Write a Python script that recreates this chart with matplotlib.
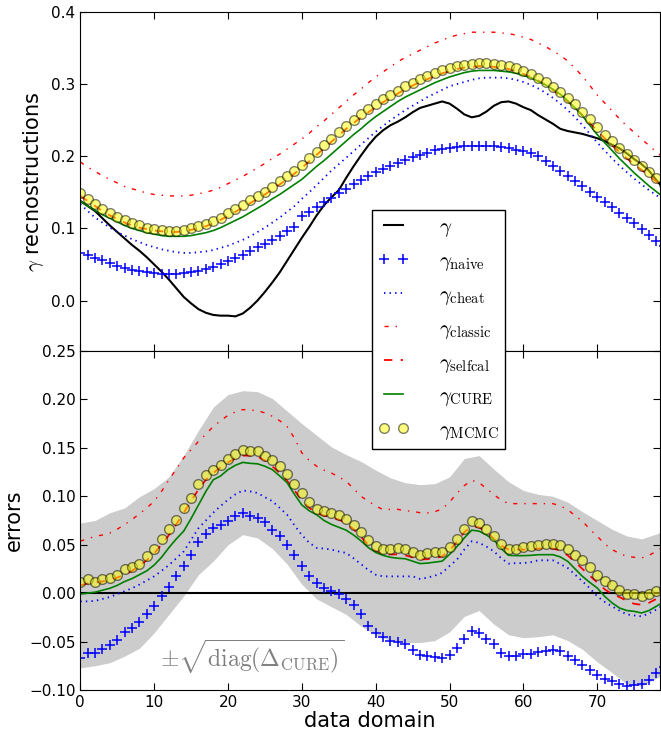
import numpy as np
import matplotlib
matplotlib.use('Agg')
import matplotlib.pyplot as plt

plt.rcParams['mathtext.fontset'] = 'cm'
plt.rcParams['lines.scale_dashes'] = False
plt.rcParams['lines.dashed_pattern'] = [6, 6]
plt.rcParams['lines.dashdot_pattern'] = [3, 5, 1, 5]
plt.rcParams['lines.dotted_pattern'] = [1, 3]

x = np.arange(80)

# top panel: reconstructions
gamma = [0.138, 0.131, 0.124, 0.114, 0.104, 0.095, 0.086, 0.077, 0.069, 0.060,
         0.050, 0.040, 0.029, 0.017, 0.005, -0.004, -0.012, -0.017, -0.020, -0.021,
         -0.021, -0.022, -0.018, -0.010, 0.000, 0.012, 0.025, 0.039, 0.055, 0.071,
         0.087, 0.102, 0.118, 0.132, 0.143, 0.153, 0.170, 0.186, 0.201, 0.215,
         0.227, 0.236, 0.243, 0.248, 0.254, 0.261, 0.267, 0.270, 0.273, 0.276,
         0.273, 0.266, 0.258, 0.254, 0.256, 0.262, 0.270, 0.275, 0.276, 0.273,
         0.268, 0.264, 0.257, 0.251, 0.245, 0.238, 0.235, 0.233, 0.231, 0.228,
         0.225, 0.221, 0.216, 0.211, 0.204, 0.196, 0.189, 0.180, 0.167, 0.155]
g_naive = [0.066, 0.0635, 0.059, 0.0556, 0.052, 0.048, 0.0454, 0.0426, 0.0403, 0.039,
           0.038, 0.037, 0.037, 0.037, 0.038, 0.039, 0.0403, 0.0436, 0.047, 0.0505,
           0.055, 0.059, 0.0635, 0.068, 0.074, 0.0788, 0.084, 0.090, 0.096, 0.102,
           0.117, 0.123, 0.130, 0.136, 0.142, 0.149, 0.155, 0.161, 0.167, 0.173,
           0.178, 0.183, 0.187, 0.191, 0.195, 0.199, 0.202, 0.205, 0.208, 0.210,
           0.212, 0.213, 0.214, 0.214, 0.214, 0.214, 0.214, 0.213, 0.211, 0.209,
           0.207, 0.204, 0.200, 0.194, 0.187, 0.180, 0.173, 0.166, 0.159, 0.151,
           0.143, 0.136, 0.129, 0.122, 0.115, 0.108, 0.099, 0.091, 0.083, 0.076]
g_cheat = [0.134, 0.124, 0.115, 0.108, 0.101, 0.095, 0.090, 0.085, 0.081, 0.077,
           0.074, 0.071, 0.069, 0.067, 0.066, 0.066, 0.067, 0.068, 0.070, 0.073,
           0.076, 0.080, 0.084, 0.089, 0.095, 0.101, 0.108, 0.115, 0.123, 0.131,
           0.141, 0.150, 0.160, 0.170, 0.180, 0.189, 0.198, 0.207, 0.216, 0.225,
           0.234, 0.242, 0.250, 0.257, 0.264, 0.270, 0.276, 0.282, 0.287, 0.292,
           0.297, 0.300, 0.303, 0.306, 0.308, 0.309, 0.309, 0.309, 0.308, 0.306,
           0.303, 0.299, 0.294, 0.288, 0.281, 0.273, 0.264, 0.254, 0.243, 0.231,
           0.219, 0.208, 0.197, 0.187, 0.178, 0.169, 0.161, 0.153, 0.146, 0.139]
g_classic = [0.192, 0.185, 0.179, 0.173, 0.168, 0.163, 0.158, 0.155, 0.152, 0.149,
             0.147, 0.146, 0.145, 0.145, 0.145, 0.146, 0.148, 0.150, 0.153, 0.157,
             0.162, 0.167, 0.172, 0.178, 0.184, 0.190, 0.197, 0.203, 0.210, 0.217,
             0.224, 0.232, 0.241, 0.249, 0.258, 0.267, 0.276, 0.285, 0.293, 0.302,
             0.310, 0.317, 0.324, 0.331, 0.337, 0.342, 0.347, 0.352, 0.357, 0.361,
             0.365, 0.368, 0.370, 0.372, 0.372, 0.372, 0.372, 0.371, 0.370, 0.368,
             0.365, 0.362, 0.357, 0.352, 0.346, 0.340, 0.332, 0.322, 0.311, 0.298,
             0.285, 0.274, 0.263, 0.252, 0.242, 0.233, 0.224, 0.215, 0.206, 0.198]
g_selfcal = [0.145, 0.138, 0.131, 0.124, 0.118, 0.113, 0.108, 0.104, 0.101, 0.099,
             0.097, 0.096, 0.095, 0.095, 0.096, 0.098, 0.100, 0.103, 0.107, 0.112,
             0.117, 0.123, 0.129, 0.135, 0.141, 0.147, 0.154, 0.161, 0.168, 0.176,
             0.184, 0.193, 0.202, 0.211, 0.220, 0.229, 0.238, 0.246, 0.254, 0.261,
             0.268, 0.275, 0.281, 0.287, 0.293, 0.298, 0.303, 0.307, 0.311, 0.315,
             0.318, 0.321, 0.323, 0.324, 0.325, 0.325, 0.324, 0.323, 0.321, 0.318,
             0.314, 0.310, 0.305, 0.299, 0.292, 0.284, 0.276, 0.267, 0.257, 0.246,
             0.235, 0.225, 0.215, 0.206, 0.197, 0.189, 0.181, 0.173, 0.165, 0.157]
g_cure = [0.138, 0.131, 0.125, 0.119, 0.114, 0.109, 0.104, 0.100, 0.097, 0.094,
          0.092, 0.090, 0.089, 0.089, 0.089, 0.090, 0.092, 0.094, 0.097, 0.101,
          0.106, 0.111, 0.116, 0.122, 0.128, 0.134, 0.141, 0.147, 0.154, 0.161,
          0.168, 0.177, 0.186, 0.194, 0.203, 0.212, 0.221, 0.230, 0.238, 0.247,
          0.255, 0.262, 0.269, 0.276, 0.282, 0.287, 0.292, 0.297, 0.302, 0.306,
          0.310, 0.313, 0.316, 0.318, 0.319, 0.319, 0.319, 0.318, 0.317, 0.315,
          0.312, 0.309, 0.304, 0.299, 0.293, 0.286, 0.277, 0.267, 0.256, 0.243,
          0.230, 0.219, 0.208, 0.197, 0.187, 0.177, 0.168, 0.159, 0.151, 0.143]
g_mcmc = [0.149, 0.141, 0.134, 0.127, 0.121, 0.116, 0.111, 0.107, 0.104, 0.101,
          0.0995, 0.098, 0.097, 0.097, 0.098, 0.100, 0.103, 0.106, 0.110, 0.115,
          0.121, 0.127, 0.133, 0.139, 0.145, 0.151, 0.158, 0.165, 0.172, 0.180,
          0.188, 0.197, 0.206, 0.215, 0.224, 0.233, 0.242, 0.250, 0.258, 0.265,
          0.272, 0.279, 0.285, 0.291, 0.297, 0.302, 0.307, 0.311, 0.315, 0.319,
          0.322, 0.325, 0.327, 0.328, 0.329, 0.329, 0.328, 0.327, 0.325, 0.322,
          0.318, 0.314, 0.309, 0.303, 0.296, 0.289, 0.281, 0.272, 0.262, 0.251,
          0.240, 0.230, 0.221, 0.212, 0.203, 0.195, 0.187, 0.178, 0.170, 0.162]

# bottom panel: errors
e_naive = [-0.0669, -0.0617, -0.0617, -0.0573, -0.0539, -0.048, -0.040, -0.036, -0.030, -0.022,
           -0.0136, -0.0033, 0.006, 0.0174, 0.0277, 0.039, 0.0525, 0.061, 0.0673, 0.070,
           0.0749, 0.0793, 0.0828, 0.080, 0.078, 0.073, 0.0656, 0.0587, 0.050, 0.039,
           0.028, 0.0174, 0.0105, 0.0054, 0.0019, -0.0005, -0.006, -0.0126, -0.022, -0.0336,
           -0.041, -0.0456, -0.049, -0.0504, -0.053, -0.059, -0.0635, -0.065, -0.066, -0.0669,
           -0.0635, -0.0566, -0.0473, -0.0387, -0.041, -0.047, -0.053, -0.0617, -0.065, -0.0645,
           -0.0625, -0.0625, -0.061, -0.060, -0.059, -0.060, -0.0645, -0.0687, -0.0738, -0.079,
           -0.0841, -0.0886, -0.091, -0.0934, -0.0955, -0.0945, -0.094, -0.0893, -0.0824, -0.076]
e_cheat = [-0.0085, -0.0085, -0.008, -0.006, -0.004, -0.001, 0.002, 0.005, 0.0088, 0.013,
           0.0174, 0.023, 0.029, 0.036, 0.043, 0.055, 0.067, 0.075, 0.083, 0.090,
           0.0965, 0.102, 0.106, 0.105, 0.1034, 0.099, 0.095, 0.088, 0.081, 0.070,
           0.060, 0.052, 0.0467, 0.046, 0.045, 0.043, 0.0415, 0.036, 0.030, 0.024,
           0.019, 0.0173, 0.0173, 0.0173, 0.0173, 0.0173, 0.0147, 0.016, 0.018, 0.021,
           0.028, 0.0346, 0.045, 0.0535, 0.052, 0.048, 0.0432, 0.036, 0.0305, 0.031,
           0.031, 0.032, 0.0339, 0.0339, 0.0339, 0.030, 0.026, 0.019, 0.0122, 0.005,
           -0.0033, -0.009, -0.0136, -0.018, -0.022, -0.023, -0.024, -0.021, -0.017, -0.012]
e_classic = [0.0537, 0.056, 0.0587, 0.060, 0.062, 0.066, 0.0707, 0.076, 0.0818, 0.088,
             0.0948, 0.105, 0.117, 0.128, 0.1396, 0.148, 0.1567, 0.164, 0.172, 0.178,
             0.1836, 0.187, 0.1895, 0.189, 0.1885, 0.186, 0.1826, 0.178, 0.172, 0.160,
             0.1448, 0.137, 0.131, 0.127, 0.124, 0.120, 0.1155, 0.108, 0.100, 0.095,
             0.090, 0.0862, 0.0865, 0.0865, 0.085, 0.0845, 0.083, 0.0828, 0.084, 0.087,
             0.094, 0.103, 0.111, 0.1165, 0.114, 0.108, 0.1017, 0.096, 0.0924, 0.0924,
             0.0924, 0.0924, 0.0924, 0.0924, 0.0924, 0.090, 0.0862, 0.080, 0.0742, 0.066,
             0.0587, 0.051, 0.045, 0.041, 0.038, 0.037, 0.0363, 0.039, 0.0432, 0.048]
e_selfcal = [0.008, 0.010, 0.011, 0.012, 0.014, 0.016, 0.019, 0.023, 0.028, 0.034,
             0.041, 0.050, 0.060, 0.071, 0.083, 0.095, 0.107, 0.117, 0.124, 0.130,
             0.135, 0.139, 0.142, 0.142, 0.141, 0.137, 0.131, 0.124, 0.116, 0.106,
             0.096, 0.088, 0.083, 0.080, 0.078, 0.076, 0.072, 0.066, 0.058, 0.050,
             0.043, 0.040, 0.040, 0.040, 0.039, 0.037, 0.035, 0.035, 0.036, 0.038,
             0.044, 0.053, 0.063, 0.069, 0.068, 0.063, 0.056, 0.049, 0.045, 0.045,
             0.045, 0.045, 0.046, 0.046, 0.046, 0.044, 0.039, 0.032, 0.025, 0.018,
             0.011, 0.004, -0.001, -0.004, -0.008, -0.011, -0.012, -0.010, -0.006, -0.002]
e_cure = [-0.001, 0.000, 0.001, 0.003, 0.005, 0.008, 0.012, 0.015, 0.019, 0.023,
          0.029, 0.037, 0.047, 0.056, 0.064, 0.077, 0.091, 0.105, 0.117, 0.121,
          0.1275, 0.132, 0.135, 0.134, 0.1335, 0.131, 0.1275, 0.121, 0.114, 0.102,
          0.091, 0.085, 0.081, 0.075, 0.071, 0.068, 0.065, 0.060, 0.054, 0.047,
          0.042, 0.039, 0.037, 0.036, 0.0355, 0.033, 0.0305, 0.031, 0.032, 0.033,
          0.040, 0.048, 0.057, 0.065, 0.064, 0.060, 0.055, 0.046, 0.039, 0.0387,
          0.0387, 0.039, 0.0397, 0.0397, 0.0397, 0.0374, 0.0328, 0.025, 0.0173, 0.011,
          0.0053, -0.0033, -0.010, -0.0153, -0.018, -0.0188, -0.0205, -0.018, -0.0136, -0.009]
e_mcmc = [0.012, 0.015, 0.012, 0.015, 0.016, 0.019, 0.025, 0.027, 0.030, 0.038,
          0.046, 0.056, 0.066, 0.076, 0.088, 0.098, 0.113, 0.122, 0.1275, 0.132,
          0.139, 0.1437, 0.1475, 0.1465, 0.1465, 0.142, 0.137, 0.131, 0.123, 0.113,
          0.1035, 0.094, 0.087, 0.0845, 0.083, 0.081, 0.0766, 0.0707, 0.0628, 0.0545,
          0.0483, 0.0456, 0.0456, 0.0463, 0.0456, 0.0421, 0.0397, 0.0415, 0.0425, 0.042,
          0.0473, 0.0563, 0.0663, 0.0742, 0.0725, 0.0663, 0.0587, 0.0508, 0.0456, 0.0459,
          0.0477, 0.0483, 0.0494, 0.0508, 0.051, 0.050, 0.0456, 0.0397, 0.0339, 0.0267,
          0.0191, 0.0122, 0.0088, 0.0036, -0.0008, -0.0008, -0.0026, -0.0008, 0.0019, 0.004]

# grey band (CURE uncertainty), every 2nd data point
x_band = np.arange(0, 82, 2)
band_hi = [0.0724, 0.075, 0.083, 0.088, 0.0995, 0.108, 0.120, 0.142, 0.168, 0.192,
           0.205, 0.209, 0.208, 0.201, 0.188, 0.175, 0.163, 0.151, 0.143, 0.136,
           0.127, 0.119, 0.114, 0.112, 0.113, 0.120, 0.139, 0.142, 0.128, 0.115,
           0.106, 0.102, 0.100, 0.094, 0.084, 0.075, 0.066, 0.059, 0.056, 0.061, 0.068]
band_lo = [-0.0772, -0.075, -0.0718, -0.065, -0.057, -0.041, -0.022, -0.003, 0.019, 0.033,
           0.050, 0.0604, 0.057, 0.046, 0.030, 0.009, -0.006, -0.014, -0.022, -0.034,
           -0.043, -0.049, -0.051, -0.051, -0.049, -0.040, -0.024, -0.018, -0.032, -0.043,
           -0.046, -0.045, -0.043, -0.049, -0.058, -0.071, -0.082, -0.094, -0.096, -0.088, -0.080]

labels = [r'$\gamma$', r'$\gamma_{\rm naive}$', r'$\gamma_{\rm cheat}$', r'$\gamma_{\rm classic}$',
          r'$\gamma_{\rm selfcal}$', r'$\gamma_{\rm CURE}$', r'$\gamma_{\rm MCMC}$']

fig = plt.figure(figsize=(6.61, 7.32), dpi=100)
ax1 = fig.add_axes([0.1215, 0.5205, 0.877, 0.4631])
ax2 = fig.add_axes([0.1215, 0.0574, 0.877, 0.4631])

l1, = ax1.plot(x, gamma, color='k', lw=1.5)
l2, = ax1.plot(x, g_naive, '+', color='b', ms=7, mew=1.1)
l3, = ax1.plot(x, g_cheat, ':', color='b', lw=1.3)
l4, = ax1.plot(x, g_classic, '-.', color='r', lw=1.0)
l5, = ax1.plot(x, g_selfcal, '--', color='r', lw=1.3)
l6, = ax1.plot(x, g_cure, '-', color='g', lw=1.2)
l7, = ax1.plot(x, g_mcmc, 'o', color='yellow', mec='k', alpha=0.5, ms=7)

ax2.fill_between(x_band, band_lo, band_hi, color='0.8', lw=0)
ax2.axhline(0, color='k', lw=1.5)
ax2.plot(x, e_naive, '+', color='b', ms=7, mew=1.1)
ax2.plot(x, e_cheat, ':', color='b', lw=1.3)
ax2.plot(x, e_classic, '-.', color='r', lw=1.0)
ax2.plot(x, e_selfcal, '--', color='r', lw=1.3)
ax2.plot(x, e_cure, '-', color='g', lw=1.2)
ax2.plot(x, e_mcmc, 'o', color='yellow', mec='k', alpha=0.5, ms=7)
ax2.text(10.8, -0.076, r'$\pm\sqrt{\mathrm{diag}(\Delta_{\mathrm{CURE}})}$',
         color='0.5', fontsize=17)

for ax in [ax1, ax2]:
    ax.set_xlim(0, 78.5)
    ax.set_xticks([0, 10, 20, 30, 40, 50, 60, 70])
    ax.tick_params(direction='in', top=True, right=True, length=5, labelsize=11)

ax1.set_ylim(-0.07, 0.4)
ax1.set_yticks([0.0, 0.1, 0.2, 0.3, 0.4])
ax1.set_yticklabels(['0.0', '0.1', '0.2', '0.3', '0.4'])
ax1.tick_params(labelbottom=False)
ax1.set_ylabel(r'$\gamma$ recnostructions', fontsize=15)

ax2.set_ylim(-0.1, 0.25)
ax2.set_yticks([-0.10, -0.05, 0.0, 0.05, 0.10, 0.15, 0.20, 0.25])
ax2.set_yticklabels(['\u22120.10', '\u22120.05', '0.00', '0.05', '0.10', '0.15', '0.20', '0.25'])
ax2.set_ylabel('errors', fontsize=15)
ax2.set_xlabel('data domain', fontsize=15, labelpad=1)

leg = fig.legend([l1, l2, l3, l4, l5, l6, l7], labels, loc='upper left',
                 bbox_to_anchor=(372 / 661., 1 - 210 / 732.), borderaxespad=0,
                 fontsize=15, numpoints=2, handlelength=1.5, handletextpad=1.4,
                 borderpad=0.3, labelspacing=0.52, fancybox=False, framealpha=1)
leg.get_frame().set_edgecolor('k')
leg.get_frame().set_linewidth(1.0)

fig.savefig('out.png', dpi=100)
